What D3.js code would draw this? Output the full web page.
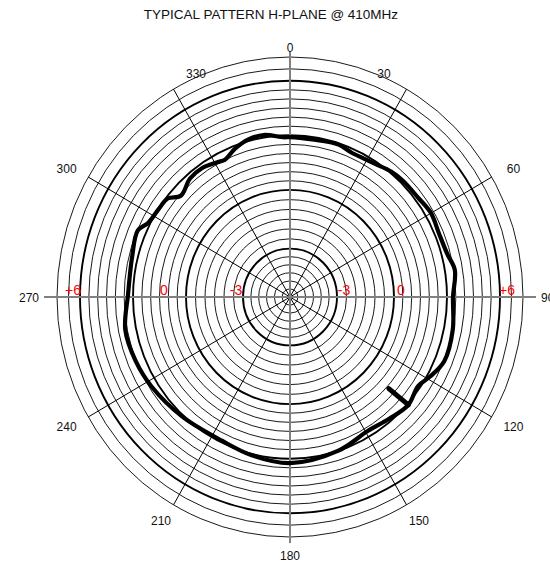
<!DOCTYPE html>
<html><head><meta charset="utf-8">
<script src="https://cdn.jsdelivr.net/npm/d3@7"></script>
<style>body{margin:0;background:#fff}svg{display:block}</style>
</head><body>
<svg id="chart" width="550" height="566"></svg>
<script>
// ---------- data ----------
const title = "TYPICAL PATTERN H-PLANE @ 410MHz";
const ringLevels = d3.range(-5.5, 7.01, 0.5);          // dB rings
const boldLevels = [-3, 0, 3, 6];
const dbLabelValues = [-3, 0, 6];
const dbLabelText = ["-3", "0", "+6"];
const spokeAngles = [0, 30, 60, 90, 120, 150, 180, 210, 240, 270, 300, 330];
const angleLabels = ["0", "30", "60", "90", "120", "150", "180", "210", "240", "270", "300", "330"];
const patternAngles = [0, 8.3, 18.2, 23.6, 29.3, 33.4, 39.7, 45, 53, 60, 67.5, 75, 81, 90, 101, 112, 119, 124, 131.5, 140, 149, 162, 180, 194, 206, 223, 238, 248, 259, 271, 284, 293, 297, 303, 308, 312, 319, 325, 331, 334, 339, 345, 350.5, 357.5];
const patternDb = [2.90, 2.86, 2.93, 2.78, 2.80, 2.87, 3.07, 3.15, 3.19, 3.33, 3.24, 3.32, 3.56, 3.34, 3.50, 3.53, 3.16, 2.86, 3.06, 2.85, 2.69, 2.99, 3.24, 3.08, 2.90, 3.08, 3.37, 3.53, 3.61, 3.28, 3.32, 3.47, 3.11, 2.98, 2.90, 2.43, 2.74, 2.77, 2.58, 2.51, 2.83, 3.09, 3.14, 2.90];
const stubAngles = [132, 131.5];
const stubDb = [1.64, 3.06];

// ---------- layout ----------
const svg = d3.select("#chart");
const cx = 290, cy = 297, sy = 1.03;
const r = d3.scaleLinear().domain([-6, -3, 0, 3, 6, 7]).range([0, 47, 104, 157, 210, 233]);
const rad = d3.scaleLinear().domain([0, 360]).range([0, 2 * Math.PI]);
const pt = (a, rr) => [cx + rr * Math.sin(rad(a)), cy - rr * Math.cos(rad(a)) * sy];
const R = r(7);

svg.append("text").attr("x", 271).attr("y", 19).attr("text-anchor", "middle")
  .attr("font-family", "Liberation Sans, Arial, sans-serif").attr("font-size", 13.5)
  .attr("fill", "#111").text(title);

// rings
svg.append("g").selectAll("ellipse").data(ringLevels).join("ellipse")
  .attr("cx", cx).attr("cy", cy)
  .attr("rx", d => r(d)).attr("ry", d => r(d) * sy)
  .attr("fill", "none").attr("stroke", "#000")
  .attr("stroke-width", d => boldLevels.includes(d) ? 1.9 : 0.9);

// spokes (non-axis)
svg.append("g").selectAll("line").data(spokeAngles.filter(a => a % 90 !== 0)).join("line")
  .attr("x1", cx).attr("y1", cy)
  .attr("x2", a => pt(a, R)[0]).attr("y2", a => pt(a, R)[1])
  .attr("stroke", "#000").attr("stroke-width", 1);

// main axes
const axisLen = 246;
svg.append("g").selectAll("line").data(spokeAngles.filter(a => a % 90 === 0)).join("line")
  .attr("x1", cx).attr("y1", cy)
  .attr("x2", a => cx + axisLen * Math.sin(rad(a)))
  .attr("y2", a => cy - axisLen * Math.cos(rad(a)))
  .attr("stroke", "#808080").attr("stroke-width", 2);

// angle labels
const labR = 258;
const nudge = a => (a === 30 ? -35 : a === 330 ? 35 : 0);
svg.append("g").selectAll("text").data(spokeAngles).join("text")
  .attr("x", a => {
    if (a === 90) return cx + 251;
    if (a === 270) return cx - 251;
    return cx + labR * Math.sin(rad(a)) + nudge(a);
  })
  .attr("y", a => (a === 0 ? cy - 250 : cy - labR * Math.cos(rad(a))) + 4.5)
  .attr("text-anchor", a => a === 90 ? "start" : a === 270 ? "end" : "middle")
  .attr("font-family", "Liberation Sans, Arial, sans-serif").attr("font-size", 12)
  .attr("fill", "#111")
  .text((a, i) => angleLabels[i]);

// dB labels (both sides)
const dbSide = [];
dbLabelValues.forEach((v, i) => { dbSide.push({ v, t: dbLabelText[i], s: 1 }); dbSide.push({ v, t: dbLabelText[i], s: -1 }); });
svg.append("g").selectAll("text").data(dbSide).join("text")
  .attr("x", d => cx + d.s * (r(d.v) + (d.s < 0 && d.v === 0 ? 22 : 7)))
  .attr("y", cy - 2)
  .attr("text-anchor", "middle")
  .attr("font-family", "Liberation Sans, Arial, sans-serif").attr("font-size", 14)
  .attr("fill", "#ff0000").text(d => d.t);

// pattern
const pts = patternAngles.map((a, i) => pt(a, r(patternDb[i])));
svg.append("path").attr("d", d3.line().curve(d3.curveCatmullRomClosed)(pts))
  .attr("fill", "none").attr("stroke", "#000").attr("stroke-width", 4.2).attr("stroke-linejoin", "round");
const sp = stubAngles.map((a, i) => pt(a, r(stubDb[i])));
svg.append("path").attr("d", d3.line()(sp))
  .attr("fill", "none").attr("stroke", "#000").attr("stroke-width", 5).attr("stroke-linecap", "round");
</script>
</body></html>
